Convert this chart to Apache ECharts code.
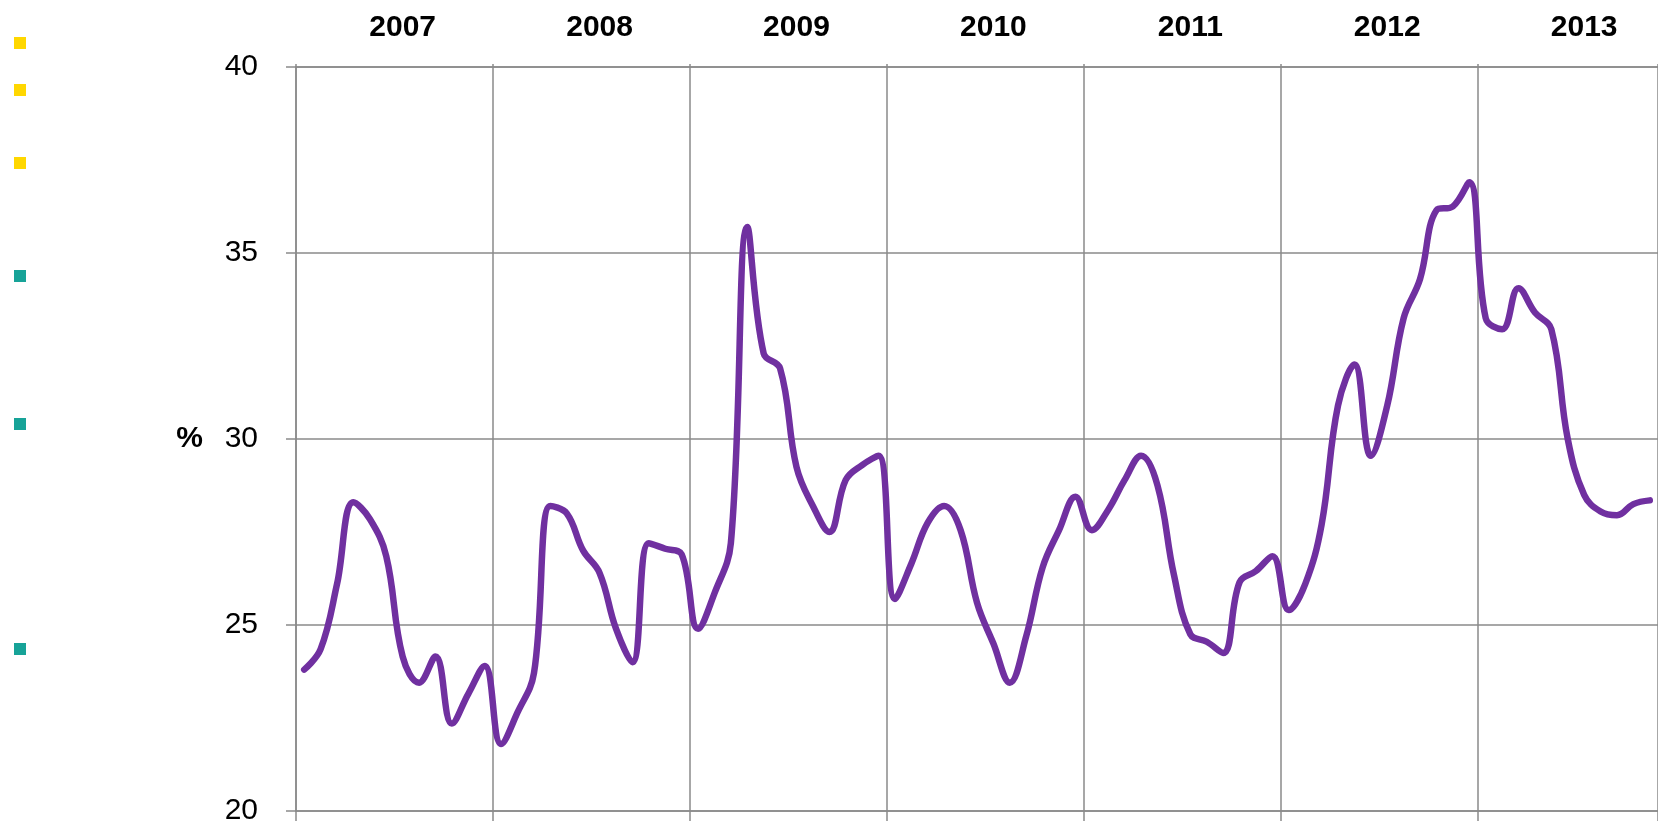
<!DOCTYPE html>
<html>
<head>
<meta charset="utf-8">
<script src="https://cdn.jsdelivr.net/npm/echarts@6/dist/echarts.min.js"></script>
<style>
html,body{margin:0;padding:0;background:#fff;}
#chart{width:1658px;height:826px;}
</style>
</head>
<body>
<div id="chart"></div>
<script>
// ---- data ----
const years = ['2007', '2008', '2009', '2010', '2011', '2012', '2013'];
const monthsPerYear = ['01','02','03','04','05','06','07','08','09','10','11','12'];
const share2007 = [23.8, 24.35, 26.1, 28.3, 27.85, 26.85, 24.15, 23.45, 24.15, 22.35, 23.15, 23.9];
const share2008 = [21.8, 22.65, 23.7, 28.2, 28.0, 27.0, 26.4, 24.9, 24.0, 27.2, 27.05, 26.9];
const share2009 = [24.9, 25.85, 27.2, 35.7, 32.3, 31.9, 29.25, 28.2, 27.5, 28.9, 29.3, 29.55];
const share2010 = [25.7, 26.65, 27.75, 28.2, 27.55, 25.6, 24.5, 23.45, 24.7, 26.55, 27.55, 28.45];
const share2011 = [27.55, 28.1, 28.9, 29.55, 28.75, 26.35, 24.75, 24.55, 24.25, 26.15, 26.45, 26.85];
const share2012 = [25.4, 26.1, 27.7, 30.9, 32.0, 29.55, 30.9, 33.25, 34.3, 36.15, 36.25, 36.9];
const share2013 = [33.25, 32.95, 34.05, 33.4, 32.95, 30.0, 28.5, 28.05, 27.95, 28.25, 28.35];
const yTicks = [20, 25, 30, 35, 40];
const yName = '%';

// ---- build ----
const values = [].concat(share2007, share2008, share2009, share2010, share2011, share2012, share2013);
const categories = [];
years.forEach(y => monthsPerYear.forEach(m => categories.push(y + '-' + m)));
categories.length = values.length;

const gridColor = '#8a8a8a';
const font = '"Liberation Sans", Arial, sans-serif';
const yearStart = (i) => i % 12 === 0;

const chart = echarts.init(document.getElementById('chart'), null, {renderer: 'canvas'});
chart.setOption({
  animation: false,
  backgroundColor: '#ffffff',
  grid: {left: 296, top: 67, width: 1364.4, height: 744, containLabel: false},
  xAxis: [{
    type: 'category',
    position: 'bottom',
    data: categories,
    boundaryGap: true,
    axisLine: {show: true, lineStyle: {color: gridColor, width: 1.5}},
    axisTick: {show: true, length: 10, interval: yearStart, lineStyle: {color: gridColor, width: 1.5}},
    axisLabel: {show: false},
    splitLine: {show: true, interval: yearStart, lineStyle: {color: gridColor, width: 1.5}}
  }, {
    type: 'category',
    position: 'top',
    data: categories,
    boundaryGap: true,
    axisLine: {show: true, lineStyle: {color: gridColor, width: 1.5}},
    axisTick: {show: true, length: 3, interval: yearStart, lineStyle: {color: gridColor, width: 1.5}},
    axisLabel: {
      show: true,
      interval: (i) => i % 12 === 6,
      formatter: (v) => v.slice(0, 4),
      margin: 24,
      fontFamily: font,
      fontSize: 30,
      fontWeight: 'bold',
      color: '#000'
    },
    splitLine: {show: false}
  }],
  yAxis: {
    type: 'value',
    min: yTicks[0],
    max: yTicks[yTicks.length - 1],
    interval: 5,
    name: yName,
    nameLocation: 'middle',
    nameRotate: 0,
    nameGap: 93,
    nameTextStyle: {fontFamily: font, fontSize: 30, fontWeight: 'bold', color: '#000'},
    axisLine: {show: true, lineStyle: {color: gridColor, width: 1.5}},
    axisTick: {show: true, length: 10, lineStyle: {color: gridColor, width: 1.5}},
    axisLabel: {margin: 38, fontFamily: font, fontSize: 30, color: '#000'},
    splitLine: {show: true, lineStyle: {color: gridColor, width: 1.5}}
  },
  series: [{
    type: 'line',
    data: values,
    smooth: 0.4,
    symbol: 'none',
    lineStyle: {color: '#7030A0', width: 6.5, cap: 'round', join: 'round'},
    itemStyle: {color: '#7030A0'}
  }],
  graphic: [
    {type: 'rect', shape: {x: 14, y: 37, width: 12, height: 12}, style: {fill: '#FFD700'}},
    {type: 'rect', shape: {x: 14, y: 84, width: 12, height: 12}, style: {fill: '#FFD700'}},
    {type: 'rect', shape: {x: 14, y: 157, width: 12, height: 12}, style: {fill: '#FFD700'}},
    {type: 'rect', shape: {x: 14, y: 270, width: 12, height: 12}, style: {fill: '#17A398'}},
    {type: 'rect', shape: {x: 14, y: 418, width: 12, height: 12}, style: {fill: '#17A398'}},
    {type: 'rect', shape: {x: 14, y: 643, width: 12, height: 12}, style: {fill: '#17A398'}}
  ]
});
</script>
</body>
</html>
